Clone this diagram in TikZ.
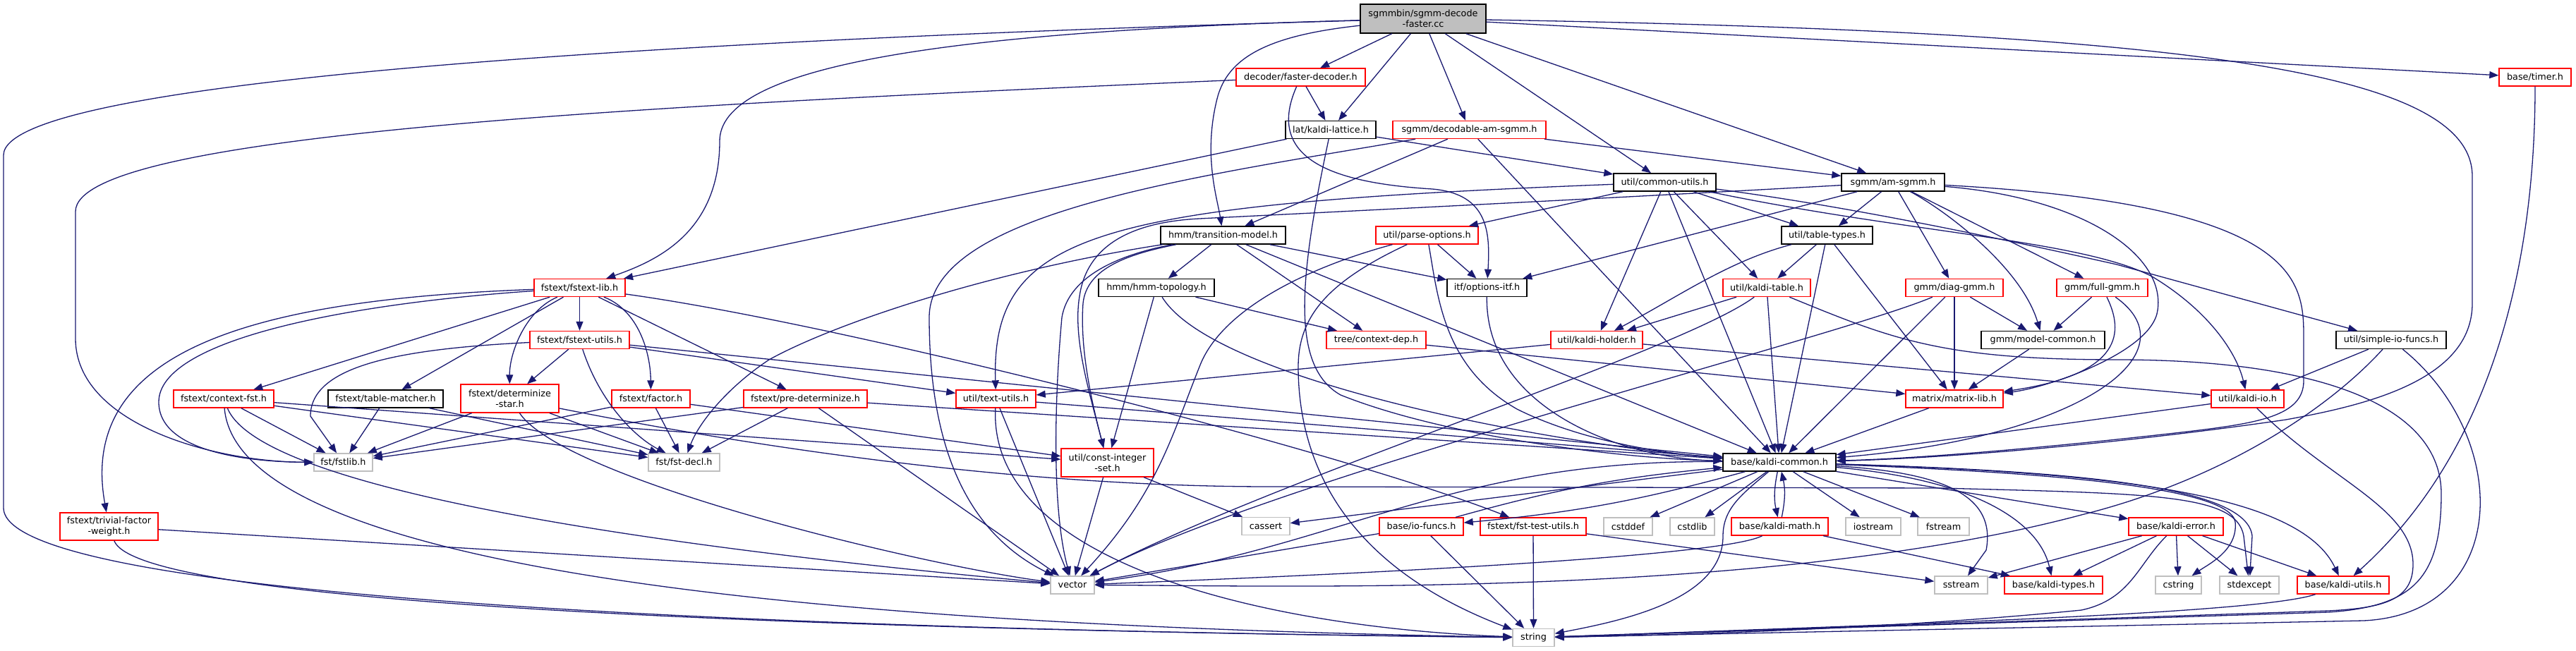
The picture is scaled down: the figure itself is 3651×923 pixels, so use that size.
\documentclass[tikz,border=0pt]{standalone}
\usepackage{fontspec}
\setmainfont{DejaVu Sans}
\usepackage{tikz}
\usetikzlibrary{arrows.meta}

\definecolor{edgeblue}{HTML}{191970}
\definecolor{sysgray}{HTML}{BFBFBF}
\newcommand{\hdrfont}{\fontsize{12.8}{15}\selectfont}

\begin{document}
\begin{tikzpicture}[
  x=1pt, y=-1pt,
  every node/.style={draw, rectangle, line width=1.4pt, inner sep=0pt,
    minimum height=25pt, align=center, font=\hdrfont},
  redbox/.style={draw=red},
  blackbox/.style={draw=black},
  graybox/.style={draw=sysgray},
  incl/.style={draw=edgeblue, line width=1.3pt, -{Triangle[length=13pt, width=10pt]}}
]
\useasboundingbox (0,0) rectangle (3651,923);

\node[blackbox, fill=sysgray, minimum width=178pt, minimum height=41pt] (root) at (2017,26.5) {sgmmbin/sgmm-decode\\-faster.cc};
\node[redbox, minimum width=183pt] (fdec) at (1843.5,109.5) {decoder/faster-decoder.h};
\node[redbox, minimum width=102pt] (timer) at (3593,109.5) {base/timer.h};
\node[blackbox, minimum width=128pt] (lattice) at (1886,184) {lat/kaldi-lattice.h};
\node[redbox, minimum width=217pt] (decodable) at (2082.5,184) {sgmm/decodable-am-sgmm.h};
\node[blackbox, minimum width=145pt] (cutils) at (2359.5,258.5) {util/common-utils.h};
\node[blackbox, minimum width=146pt] (amsgmm) at (2683,258.5) {sgmm/am-sgmm.h};
\node[blackbox, minimum width=177pt] (transmodel) at (1733.5,333.5) {hmm/transition-model.h};
\node[redbox, minimum width=145pt] (parseopt) at (2022.5,333.5) {util/parse-options.h};
\node[blackbox, minimum width=129pt] (tabletypes) at (2589.5,333.5) {util/table-types.h};
\node[redbox, minimum width=129pt] (fstextlib) at (821.5,408) {fstext/fstext-lib.h};
\node[blackbox, minimum width=164pt] (hmmtopo) at (1639,408) {hmm/hmm-topology.h};
\node[blackbox, minimum width=113pt] (optitf) at (2107.5,408) {itf/options-itf.h};
\node[redbox, minimum width=124pt] (kaltable) at (2504,408) {util/kaldi-table.h};
\node[redbox, minimum width=138pt] (diaggmm) at (2770,408) {gmm/diag-gmm.h};
\node[redbox, minimum width=129pt] (fullgmm) at (2979.5,408) {gmm/full-gmm.h};
\node[redbox, minimum width=141pt] (fstutils) at (821.5,482) {fstext/fstext-utils.h};
\node[redbox, minimum width=141pt] (ctxdep) at (1950.5,482) {tree/context-dep.h};
\node[redbox, minimum width=130pt] (holder) at (2263,482) {util/kaldi-holder.h};
\node[blackbox, minimum width=175pt] (modelcommon) at (2895.5,482) {gmm/model-common.h};
\node[blackbox, minimum width=156pt] (simpleio) at (3389,482) {util/simple-io-funcs.h};
\node[redbox, minimum width=142pt] (ctxfst) at (317,565.5) {fstext/context-fst.h};
\node[blackbox, minimum width=163pt] (tmatcher) at (546.5,565.5) {fstext/table-matcher.h};
\node[redbox, minimum width=139pt, minimum height=40pt] (detstar) at (722.5,565) {fstext/determinize\\-star.h};
\node[redbox, minimum width=111pt] (factor) at (922.5,565.5) {fstext/factor.h};
\node[redbox, minimum width=175pt] (predet) at (1141.5,565.5) {fstext/pre-determinize.h};
\node[redbox, minimum width=113pt] (textutils) at (1411.5,565.5) {util/text-utils.h};
\node[redbox, minimum width=138pt] (matrixlib) at (2770,565.5) {matrix/matrix-lib.h};
\node[redbox, minimum width=103pt] (kaldiio) at (3185.5,565.5) {util/kaldi-io.h};
\node[graybox, minimum width=83pt] (fstlib) at (486.5,655.5) {fst/fstlib.h};
\node[graybox, minimum width=101pt] (fstdecl) at (969.5,655.5) {fst/fst-decl.h};
\node[redbox, minimum width=131pt, minimum height=40pt] (cis) at (1569.5,656) {util/const-integer\\-set.h};
\node[blackbox, minimum width=160pt] (kcommon) at (2522,655.5) {base/kaldi-common.h};
\node[redbox, minimum width=139pt, minimum height=39pt] (tfw) at (154.5,746.5) {fstext/trivial-factor\\-weight.h};
\node[graybox, minimum width=68pt] (cassert) at (1794,746) {cassert};
\node[redbox, minimum width=119pt] (iofuncs) at (2014.5,746.5) {base/io-funcs.h};
\node[redbox, minimum width=150pt] (fsttest) at (2173,746.5) {fstext/fst-test-utils.h};
\node[graybox, minimum width=69pt] (cstddef) at (2307.5,746.5) {cstddef};
\node[graybox, minimum width=63pt] (cstdlib) at (2398.5,746.5) {cstdlib};
\node[redbox, minimum width=137pt] (kmath) at (2522.5,746.5) {base/kaldi-math.h};
\node[graybox, minimum width=78pt] (iostream) at (2655,746.5) {iostream};
\node[graybox, minimum width=73pt] (fstream) at (2754.5,746.5) {fstream};
\node[redbox, minimum width=134pt] (kerror) at (3084,746.5) {base/kaldi-error.h};
\node[graybox, minimum width=62pt] (vector) at (1520,829.5) {vector};
\node[graybox, minimum width=75pt] (sstream) at (2779.5,829.5) {sstream};
\node[redbox, minimum width=139pt] (ktypes) at (2910.5,829.5) {base/kaldi-types.h};
\node[graybox, minimum width=65pt] (cstring) at (3087.5,829.5) {cstring};
\node[graybox, minimum width=84pt] (stdexcept) at (3188,829.5) {stdexcept};
\node[redbox, minimum width=130pt] (kutils) at (3321,829.5) {base/kaldi-utils.h};
\node[graybox, minimum width=59pt] (string) at (2173.5,904) {string};

\draw[incl] (root) -- (fdec);
\draw[incl] (root) -- (lattice);
\draw[incl] (root) -- (decodable);
\draw[incl] (root) -- (cutils);
\draw[incl] (root) -- (amsgmm);
\draw[incl] (root) -- (timer);
\draw[incl] (root) .. controls (1800,50) and (1740,80) .. (1725,140) .. controls (1705,220) and (1725,280) .. (transmodel);
\draw[incl] (root) .. controls (1300,45) and (1020,100) .. (1020,200) .. controls (1020,330) and (930,370) .. (fstextlib);
\draw[incl] (root) .. controls (1000,55) and (5,110) .. (5,220) -- (5,720) .. controls (5,860) and (1300,895) .. (string);
\draw[incl] (root) .. controls (3100,45) and (3504,100) .. (3504,250) -- (3504,430) .. controls (3504,540) and (3350,575) .. (3240,595) .. controls (3000,630) and (2750,650) .. (kcommon);

\draw[incl] (fdec) -- (lattice);
\draw[incl] (fdec) .. controls (900,150) and (107,190) .. (107,300) -- (107,480) .. controls (107,600) and (300,655) .. (fstlib);
\draw[incl] (fdec) .. controls (1790,230) and (1900,260) .. (2030,268) .. controls (2110,275) and (2112,330) .. (optitf);

\draw[incl] (lattice) -- (fstextlib);
\draw[incl] (lattice) -- (cutils);
\draw[incl] (lattice) .. controls (1840,400) and (1830,520) .. (1900,560) .. controls (2050,620) and (2300,650) .. (kcommon);

\draw[incl] (decodable) -- (amsgmm);
\draw[incl] (decodable) -- (transmodel);
\draw[incl] (decodable) -- (kcommon);
\draw[incl] (decodable) .. controls (1700,250) and (1317,300) .. (1317,450) .. controls (1317,650) and (1380,760) .. (vector);

\draw[incl] (cutils) -- (parseopt);
\draw[incl] (cutils) .. controls (1550,290) and (1405,330) .. (textutils);
\draw[incl] (cutils) -- (holder);
\draw[incl] (cutils) -- (kaltable);
\draw[incl] (cutils) -- (tabletypes);
\draw[incl] (cutils) .. controls (2700,330) and (2950,340) .. (3050,392) .. controls (3130,440) and (3170,500) .. (kaldiio);
\draw[incl] (cutils) .. controls (2600,290) and (2800,330) .. (3000,375) -- (simpleio);
\draw[incl] (cutils) -- (kcommon);

\draw[incl] (amsgmm) -- (optitf);
\draw[incl] (amsgmm) -- (tabletypes);
\draw[incl] (amsgmm) -- (diaggmm);
\draw[incl] (amsgmm) -- (fullgmm);
\draw[incl] (amsgmm) .. controls (2760,300) and (2865,380) .. (modelcommon);
\draw[incl] (amsgmm) .. controls (2950,280) and (3070,360) .. (3058,440) .. controls (3050,500) and (2900,550) .. (matrixlib);
\draw[incl] (amsgmm) .. controls (3265,290) and (3265,400) .. (3265,480) -- (3265,540) .. controls (3265,590) and (3200,600) .. (3100,612) .. controls (2900,635) and (2720,650) .. (kcommon);
\draw[incl] (amsgmm) .. controls (2300,280) and (1900,300) .. (1700,310) .. controls (1600,315) and (1540,350) .. (1530,420) .. controls (1520,480) and (1545,560) .. (cis);

\draw[incl] (transmodel) -- (hmmtopo);
\draw[incl] (transmodel) -- (ctxdep);
\draw[incl] (transmodel) -- (optitf);
\draw[incl] (transmodel) -- (kcommon);
\draw[incl] (transmodel) .. controls (1400,385) and (1180,460) .. (1090,510) .. controls (1030,550) and (990,600) .. (fstdecl);
\draw[incl] (transmodel) .. controls (1600,360) and (1540,380) .. (1535,430) .. controls (1530,500) and (1550,580) .. (cis);
\draw[incl] (transmodel) .. controls (1590,360) and (1515,390) .. (1505,450) .. controls (1495,560) and (1490,720) .. (vector);

\draw[incl] (hmmtopo) -- (ctxdep);
\draw[incl] (hmmtopo) -- (cis);
\draw[incl] (hmmtopo) .. controls (1720,540) and (2200,630) .. (kcommon);

\draw[incl] (parseopt) -- (optitf);
\draw[incl] (parseopt) .. controls (1850,380) and (1730,440) .. (1700,520) .. controls (1660,620) and (1640,700) .. (vector);
\draw[incl] (parseopt) .. controls (1880,400) and (1840,450) .. (1840,520) .. controls (1840,650) and (1900,800) .. (string);
\draw[incl] (parseopt) .. controls (2038,420) and (2045,520) .. (2150,580) .. controls (2250,630) and (2380,645) .. (kcommon);

\draw[incl] (tabletypes) -- (kaltable);
\draw[incl] (tabletypes) .. controls (2450,370) and (2380,420) .. (holder);
\draw[incl] (tabletypes) -- (kcommon);
\draw[incl] (tabletypes) -- (matrixlib);

\draw[incl] (kaltable) -- (holder);
\draw[incl] (kaltable) -- (kcommon);
\draw[incl] (kaltable) .. controls (2380,500) and (1800,680) .. (vector);
\draw[incl] (kaltable) .. controls (2680,480) and (2750,510) .. (3000,510) .. controls (3300,510) and (3460,580) .. (3460,700) .. controls (3460,820) and (3420,860) .. (3300,868) -- (string);

\draw[incl] (diaggmm) -- (modelcommon);
\draw[incl] (diaggmm) -- (matrixlib);
\draw[incl] (diaggmm) -- (kcommon);
\draw[incl] (diaggmm) .. controls (2600,480) and (1800,680) .. (vector);

\draw[incl] (fullgmm) -- (modelcommon);
\draw[incl] (fullgmm) .. controls (3010,470) and (3010,530) .. (matrixlib);
\draw[incl] (fullgmm) .. controls (3110,500) and (2950,620) .. (kcommon);

\draw[incl] (modelcommon) -- (matrixlib);
\draw[incl] (matrixlib) -- (kcommon);
\draw[incl] (ctxdep) -- (matrixlib);

\draw[incl] (holder) -- (kaldiio);
\draw[incl] (holder) -- (textutils);
\draw[incl] (textutils) -- (kcommon);
\draw[incl] (textutils) -- (vector);
\draw[incl] (textutils) .. controls (1400,800) and (1800,890) .. (string);

\draw[incl] (cis) -- (vector);
\draw[incl] (cis) -- (cassert);
\draw[incl] (optitf) .. controls (2105,580) and (2300,650) .. (kcommon);

\draw[incl] (simpleio) -- (kaldiio);
\draw[incl] (simpleio) .. controls (3300,580) and (3150,680) .. (2950,730) .. controls (2500,850) and (1800,830) .. (vector);
\draw[incl] (simpleio) .. controls (3560,620) and (3560,870) .. (3350,880) -- (string);
\draw[incl] (kaldiio) -- (kcommon);
\draw[incl] (kaldiio) .. controls (3300,680) and (3420,720) .. (3420,800) .. controls (3420,850) and (3380,862) .. (3300,866) -- (string);
\draw[incl] (timer) .. controls (3593,400) and (3520,650) .. (kutils);

\draw[incl] (fstextlib) .. controls (500,430) and (225,480) .. (225,570) .. controls (225,640) and (350,655) .. (fstlib);
\draw[incl] (fstextlib) .. controls (350,425) and (110,500) .. (tfw);
\draw[incl] (fstextlib) -- (ctxfst);
\draw[incl] (fstextlib) -- (tmatcher);
\draw[incl] (fstextlib) .. controls (745,440) and (722,500) .. (detstar);
\draw[incl] (fstextlib) -- (fstutils);
\draw[incl] (fstextlib) .. controls (905,440) and (922,500) .. (factor);
\draw[incl] (fstextlib) -- (predet);
\draw[incl] (fstextlib) .. controls (1200,460) and (1900,640) .. (fsttest);

\draw[incl] (fstutils) .. controls (560,495) and (440,520) .. (440,590) -- (fstlib);
\draw[incl] (fstutils) -- (detstar);
\draw[incl] (fstutils) -- (textutils);
\draw[incl] (fstutils) -- (kcommon);
\draw[incl] (fstutils) .. controls (850,570) and (900,620) .. (fstdecl);

\draw[incl] (ctxfst) -- (fstlib);
\draw[incl] (ctxfst) -- (fstdecl);
\draw[incl] (ctxfst) -- (cis);
\draw[incl] (ctxfst) .. controls (380,720) and (1200,800) .. (vector);
\draw[incl] (ctxfst) .. controls (340,840) and (1400,890) .. (string);

\draw[incl] (tmatcher) -- (fstlib);
\draw[incl] (tmatcher) -- (fstdecl);

\draw[incl] (detstar) -- (fstlib);
\draw[incl] (detstar) -- (fstdecl);
\draw[incl] (detstar) .. controls (800,680) and (1300,800) .. (vector);
\draw[incl] (detstar) .. controls (1000,620) and (1400,690) .. (1800,690) -- (2750,692) .. controls (3050,700) and (3170,700) .. (3180,760) -- (stdexcept);

\draw[incl] (factor) -- (fstlib);
\draw[incl] (factor) -- (fstdecl);
\draw[incl] (factor) -- (cis);

\draw[incl] (predet) -- (fstlib);
\draw[incl] (predet) -- (fstdecl);
\draw[incl] (predet) -- (vector);
\draw[incl] (predet) -- (kcommon);

\draw[incl] (fsttest) -- (string);
\draw[incl] (fsttest) -- (sstream);
\draw[incl] (tfw) -- (vector);
\draw[incl] (tfw) .. controls (200,870) and (1400,895) .. (string);

\draw[incl] (kcommon) -- (cassert);
\draw[incl] (kcommon) to[bend left=5] (iofuncs);
\draw[incl] (iofuncs) to[bend left=5] (kcommon);
\draw[incl] (kcommon) -- (cstddef);
\draw[incl] (kcommon) -- (cstdlib);
\draw[incl] (kcommon) to[bend right=12] (kmath);
\draw[incl] (kmath) to[bend right=12] (kcommon);
\draw[incl] (kcommon) -- (iostream);
\draw[incl] (kcommon) -- (fstream);
\draw[incl] (kcommon) -- (kerror);
\draw[incl] (kcommon) .. controls (2750,670) and (2830,700) .. (2815,780) -- (sstream);
\draw[incl] (kcommon) .. controls (2800,680) and (2890,740) .. (ktypes);
\draw[incl] (kcommon) .. controls (2900,670) and (3160,690) .. (3168,740) .. controls (3172,780) and (3130,800) .. (cstring);
\draw[incl] (kcommon) .. controls (2950,668) and (3185,690) .. (3192,760) -- (stdexcept);
\draw[incl] (kcommon) .. controls (3000,670) and (3260,700) .. (kutils);
\draw[incl] (kcommon) .. controls (2050,650) and (1900,780) .. (vector);
\draw[incl] (kcommon) .. controls (2470,700) and (2442,720) .. (2442,760) .. controls (2442,850) and (2300,880) .. (string);

\draw[incl] (iofuncs) -- (vector);
\draw[incl] (iofuncs) -- (string);
\draw[incl] (kmath) .. controls (2440,790) and (1900,815) .. (vector);
\draw[incl] (kmath) -- (ktypes);

\draw[incl] (kerror) -- (sstream);
\draw[incl] (kerror) -- (ktypes);
\draw[incl] (kerror) -- (cstring);
\draw[incl] (kerror) -- (stdexcept);
\draw[incl] (kerror) -- (kutils);
\draw[incl] (kerror) .. controls (3030,800) and (3020,850) .. (2950,865) .. controls (2700,890) and (2400,900) .. (string);
\draw[incl] (kutils) .. controls (3200,870) and (2700,885) .. (string);

\end{tikzpicture}
\end{document}
